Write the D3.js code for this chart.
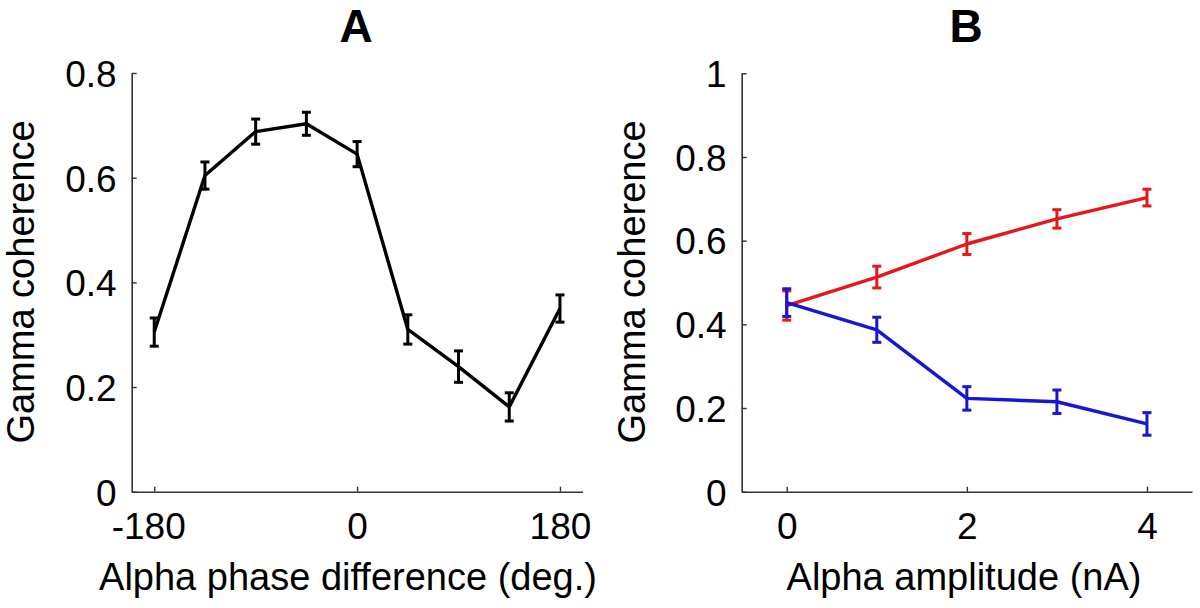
<!DOCTYPE html>
<html><head><meta charset="utf-8">
<script src="https://cdn.jsdelivr.net/npm/d3@7"></script>
<style>
body{margin:0;background:#fff;}
text{font-family:"Liberation Sans",Arial,sans-serif;fill:#000;}
</style></head>
<body><svg id="c" width="1200" height="608"></svg>
<script>
// Panel A data
const phaseDiff = [-180, -135, -90, -45, 0, 45, 90, 135, 180];
const cohA = [0.305, 0.604, 0.688, 0.703, 0.645, 0.31, 0.239, 0.162, 0.35];
const errA = [0.027, 0.026, 0.024, 0.022, 0.024, 0.028, 0.03, 0.027, 0.026];
const xTicksA = [-180, 0, 180];
const yTicksA = [0, 0.2, 0.4, 0.6, 0.8];

// Panel B data
const amplitude = [0, 1, 2, 3, 4];
const cohRed = [0.445, 0.513, 0.592, 0.652, 0.703];
const errRed = [0.035, 0.026, 0.025, 0.022, 0.02];
const cohBlue = [0.452, 0.387, 0.223, 0.215, 0.162];
const errBlue = [0.033, 0.03, 0.028, 0.028, 0.027];
const xTicksB = [0, 2, 4];
const yTicksB = [0, 0.2, 0.4, 0.6, 0.8, 1];

const svg = d3.select("#c");
const TFS = 37, LFS = 38;

function panel(opt){
  const g = svg.append("g");
  const x = d3.scaleLinear().domain(opt.xd).range(opt.xr);
  const y = d3.scaleLinear().domain(opt.yd).range([491.7, opt.ytop]);
  const ax = g.append("g").attr("transform", `translate(0,${y(0)})`)
    .call(d3.axisBottom(x).tickValues(opt.xt).tickSizeInner(-5).tickSizeOuter(0).tickPadding(21).tickFormat(d => String(d)));
  const ay = g.append("g").attr("transform", `translate(${x.range()[0]},0)`)
    .call(d3.axisLeft(y).tickValues(opt.yt).tickSizeInner(-5).tickSizeOuter(0).tickPadding(15).tickFormat(d => d === 0 || d === 1 ? String(d) : d3.format(".1f")(d)));
  [ax, ay].forEach(a => {
    a.select(".domain").attr("stroke", "#333").attr("stroke-width", 1.6);
    a.selectAll(".tick line").attr("stroke", "#333").attr("stroke-width", 1.4);
    a.selectAll("text").attr("font-size", TFS).attr("fill", "#000");
  });
  ax.selectAll("text").attr("dy", "0.71em").attr("dx", d => d < 0 ? -6 : 0);
  ay.selectAll("text").attr("dy", "0.36em");
  g.append("text").attr("x", opt.xlx).attr("y", 590)
    .attr("text-anchor", "middle").attr("font-size", LFS).text(opt.xl);
  g.append("text").attr("transform", `translate(${opt.ylx},282) rotate(-90)`)
    .attr("text-anchor", "middle").attr("font-size", LFS).text("Gamma coherence");
  g.append("text").attr("x", opt.tx).attr("y", 41.5).attr("text-anchor", "middle")
    .attr("font-size", 46).attr("font-weight", "bold").text(opt.title);
  opt.series.forEach(s => {
    const pts = s.xs.map((d, i) => ({x: d, y: s.ys[i], e: s.es[i]}));
    g.append("path").datum(pts).attr("fill", "none").attr("stroke", s.color)
      .attr("stroke-width", 3.4).attr("stroke-linejoin", "round")
      .attr("d", d3.line().x(d => x(d.x)).y(d => y(d.y)));
    const eb = g.append("g").attr("stroke", s.color).attr("stroke-width", 3);
    pts.forEach(p => {
      const cx = x(p.x), y1 = y(p.y + p.e), y2 = y(p.y - p.e);
      eb.append("line").attr("x1", cx).attr("x2", cx).attr("y1", y1).attr("y2", y2);
      eb.append("line").attr("x1", cx - 4.5).attr("x2", cx + 4.5).attr("y1", y1).attr("y2", y1);
      eb.append("line").attr("x1", cx - 4.5).attr("x2", cx + 4.5).attr("y1", y2).attr("y2", y2);
    });
  });
}

panel({xd: [-200, 200], xr: [131.7, 582.5], yd: [0, 0.8], ytop: 73, xt: xTicksA, yt: yTicksA,
  xl: "Alpha phase difference (deg.)", xlx: 348, ylx: 33.5, tx: 356, title: "A",
  series: [{xs: phaseDiff, ys: cohA, es: errA, color: "#000"}]});

panel({xd: [-0.5, 4.5], xr: [741.7, 1192], yd: [0, 1], ytop: 73.3, xt: xTicksB, yt: yTicksB,
  xl: "Alpha amplitude (nA)", xlx: 964, ylx: 645, tx: 966, title: "B",
  series: [{xs: amplitude, ys: cohRed, es: errRed, color: "#e6161b"},
           {xs: amplitude, ys: cohBlue, es: errBlue, color: "#1616d4"}]});
</script></body></html>
